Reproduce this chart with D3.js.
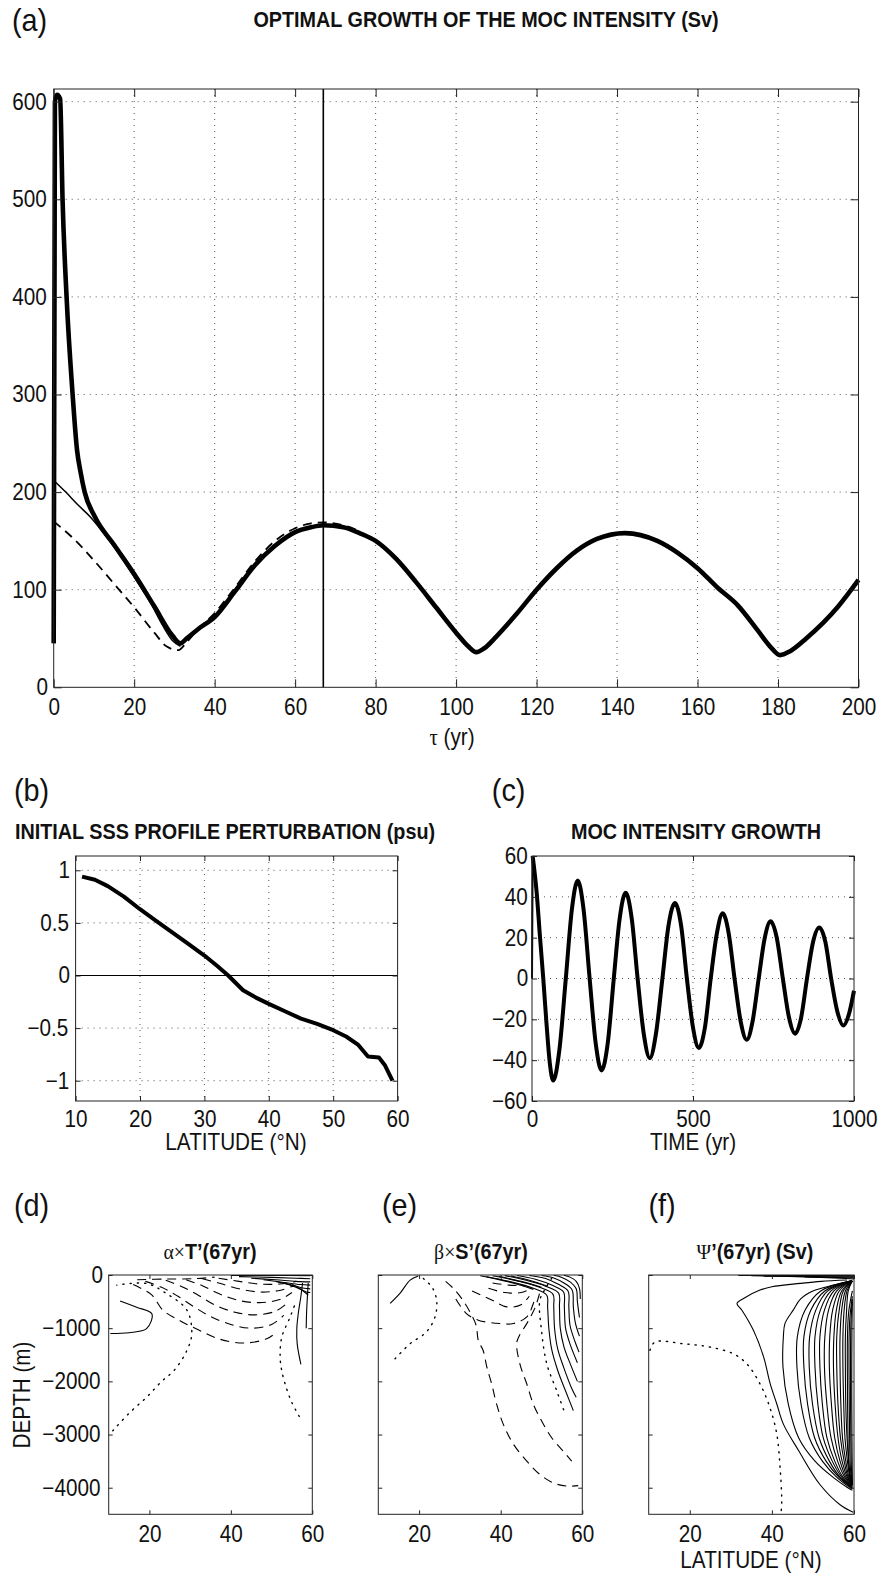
<!DOCTYPE html>
<html lang="en">
<head>
<meta charset="UTF-8">
<title>Optimal growth of the MOC intensity</title>
<script src="https://d3js.org/d3.v7.min.js"></script>
<style>
  body { margin: 0; background: #fff; }
  svg { display: block; font-family: "Liberation Sans", Arial, Helvetica, sans-serif; }
  /* the original lettering is a little narrower than Liberation Sans */
  svg text { transform-box: fill-box; transform-origin: center; transform: scaleX(0.9); }
  .grid { stroke: #555; stroke-width: 1; stroke-dasharray: 1,5; }
  .frame { fill: none; stroke: #222; stroke-width: 1; }
  .sym { font-family: "Liberation Serif", "DejaVu Serif", serif; font-weight: normal; }
</style>
</head>
<body>
<svg id="fig"></svg>
<script>
const W = 881, H = 1573;
const svg = d3.select("#fig").attr("width", W).attr("height", H);

// ---- (a) optimal growth vs optimisation time tau ----
const tauThick = [0, 0.3, 0.8, 1.6, 2.2, 3.2, 4.7, 5.8, 6.7, 7.7, 10.2, 15, 20, 25, 29.5, 31.5, 33, 36, 40, 45, 50, 55, 60, 64, 67, 72, 76, 80, 85, 90, 95, 100, 103, 105, 107, 110, 115, 120, 125, 130, 135, 142, 150, 155, 160, 165, 170, 175, 178, 180.5, 183, 187, 195, 200];
const mocThick = [45, 600, 607, 603, 500, 400, 300, 243, 220, 200, 175, 146, 116, 83, 53, 45, 50, 60, 72, 98, 125, 145, 159, 164, 166, 164, 158, 150, 132, 108, 82, 56, 42, 36, 40, 52, 75, 100, 122, 140, 152, 158, 150, 138, 122, 102, 84, 58, 42, 33, 37, 50, 83, 110];
const tauThin = [0, 3, 6, 9, 12, 16, 20, 22, 24, 27, 29.5, 31.5];
const mocThin = [212, 200, 187, 175, 160, 138, 113, 100, 87, 64, 48, 42];
const tauDash = [0, 5, 10, 15, 20, 25, 28, 31, 33, 36, 40, 45, 50, 55, 60, 64, 67, 72, 76];
const mocDash = [170, 152, 130, 106, 82, 56, 42, 38, 46, 60, 76, 102, 129, 150, 163, 168, 169, 166, 160];
const tauMark = 67;

// ---- (b) initial SSS perturbation ----
const latB = [11, 13, 15, 17.5, 20, 22.5, 25, 27.5, 30, 32, 33.7, 36, 38, 40, 42.5, 45, 47.5, 50, 52, 53.9, 55.4, 57.1, 58, 59.2];
const sssB = [0.94, 0.91, 0.85, 0.75, 0.63, 0.52, 0.41, 0.30, 0.19, 0.09, 0.0, -0.14, -0.21, -0.27, -0.34, -0.41, -0.46, -0.52, -0.58, -0.66, -0.77, -0.78, -0.85, -1.0];

// ---- (c) MOC intensity growth in time ----
const timeC = [0, 2, 14, 25, 35, 45, 55, 66, 85, 105, 124, 142, 160, 179, 198, 216, 235, 254, 272, 291, 310, 328, 347, 366, 385, 405, 424, 444, 463, 481, 500, 518, 537, 555, 574, 592, 611, 629, 648, 667, 685, 704, 723, 741, 760, 779, 798, 817, 836, 854, 873, 892, 911, 929, 948, 967, 985, 1000];
const mocC = [0, 60, 43, 20, 0, -22, -41, -50, -35, 0, 34, 48, 34, 0, -32, -45, -32, 0, 29, 42, 29, 0, -27, -39, -27, 0, 26, 37, 26, 0, -24, -34, -24, 0, 22, 32, 22, 0, -21, -30, -21, 0, 20, 28, 20, 0, -19, -27, -19, 0, 18, 25, 18, 0, -16, -23, -17, -6];

// ---- (d) alpha x T' at 67 yr : contours [lat, depth] ----
const tPos = [
  [[10.4, -1100], [15, -1085], [19.3, -1010], [20.6, -730], [17, -610], [12.8, -490]],
  [[57.6, -150], [57.2, -400], [56.6, -700], [56.2, -1000], [56.3, -1300], [57.2, -1680]],
  [[59, -150], [58.8, -400], [58.6, -700], [58.5, -1000]],
  [[40, -8], [50, -10], [59.5, -12]],
  [[42, -30], [50, -45], [56, -60], [59.5, -70]],
  [[45, -60], [51, -90], [56, -120], [59.5, -130]],
  [[48, -90], [53, -140], [57, -180], [59.5, -190]],
  [[51, -120], [55, -190], [58, -250], [59.5, -260]],
  [[53, -150], [56, -230], [58.5, -320], [59.5, -330]],
  [[55, -180], [57, -260], [59, -380]]
];
const tNeg = [
  [[16, -180], [20.5, -370], [23.3, -660], [27.5, -860], [32, -1030], [37, -1200], [43, -1280], [48.8, -1200], [51.3, -1070]],
  [[19, -120], [23, -230], [27, -400], [31, -600], [35, -780], [40, -930], [45, -1000], [50, -930], [53, -760]],
  [[24, -100], [28, -220], [32, -380], [36, -560], [41, -700], [46, -750], [51, -680], [54, -520]],
  [[29, -90], [33, -200], [37, -350], [42, -480], [47, -520], [52, -460], [55, -330]],
  [[33, -70], [37, -150], [42, -260], [47, -320], [52, -290], [55.5, -200]],
  [[37, -60], [42, -120], [47, -170], [52, -170], [56, -120]],
  [[17, -90], [24, -75], [31, -70], [36, -40]]
];
const tZero = [
  [[11, -2930], [15, -2600], [19.3, -2300], [23, -2000], [26, -1800], [29.2, -1420], [30.4, -1100], [29.2, -660], [24.2, -350], [19.3, -160], [12, -190]],
  [[56.8, -2660], [55, -2400], [53.7, -2140], [52.5, -1800], [52.1, -1540], [52.5, -1170], [54.5, -800], [56, -500]]
];

// ---- (e) beta x S' at 67 yr ----
const sPos = [
  [[12.9, -535], [15.3, -347], [17.8, -95], [19.8, -19]],
  [[35, -15], [42, -120], [48, -250], [51.3, -380], [51.5, -600], [51.8, -1000], [52.5, -1400], [54, -1800], [56, -2200], [57.8, -2550]],
  [[38, -15], [44, -110], [49.5, -230], [52.8, -360], [53, -600], [53.2, -1000], [54, -1400], [55.5, -1750], [57.5, -2150], [58.5, -2300]],
  [[41, -12], [46, -95], [51, -210], [54.2, -340], [54.4, -600], [54.6, -1000], [55.5, -1350], [57.2, -1700], [58.8, -2000]],
  [[44, -10], [48.5, -80], [52.5, -190], [55.4, -320], [55.6, -600], [55.9, -1000], [57, -1300], [58.8, -1650]],
  [[47, -8], [51, -65], [54, -170], [56.5, -300], [56.7, -600], [57, -950], [58.2, -1250], [59.2, -1450]],
  [[50, -8], [53, -55], [55.5, -150], [57.5, -280], [57.8, -600], [58.3, -900], [59.3, -1150]],
  [[53, -6], [55, -45], [57, -130], [58.5, -260], [58.8, -500], [59.3, -800]],
  [[55.5, -5], [57, -40], [58.5, -120], [59.3, -250], [59.5, -450]],
  [[36.5, -30], [43, -150], [48, -270]],
  [[39.5, -25], [45, -120], [50, -230]],
  [[42.5, -20], [47, -100], [51.5, -210]]
];
const sNeg = [
  [[26.5, -120], [28.5, -260], [30.5, -450], [32.5, -700], [34, -950], [34.5, -1230], [35.7, -1420], [36.6, -1730], [37.8, -2050], [39, -2430], [40.6, -2800], [43.1, -3180], [46.4, -3500], [49.6, -3750], [52.9, -3910], [56.2, -3970], [59, -3960]],
  [[49.5, -350], [48.5, -600], [46.5, -900], [44.5, -1150], [43.9, -1290], [44.7, -1670], [46.4, -2050], [48, -2430], [50, -2740], [52.5, -3060], [55.3, -3310], [57.4, -3500]],
  [[29, -450], [31.6, -725], [34.5, -850], [39.8, -913], [43.1, -913], [46.4, -788], [48, -535], [48.5, -400]],
  [[33, -300], [37.8, -470], [41.5, -600], [45, -560], [47, -400]],
  [[37, -250], [41, -330], [45, -330], [47.5, -250]],
  [[38, -150], [42, -190], [46, -200]]
];
const sZero = [
  [[14.1, -1575], [17.8, -1292], [21.8, -1071], [23.9, -788], [24.3, -473], [23.1, -220], [21.4, -95], [20.5, -10]],
  [[52.5, -60], [51, -250], [49.6, -470], [50, -1040], [51.3, -1670], [53.7, -2170], [55.8, -2615]]
];

// ---- (f) streamfunction Psi' at 67 yr (Sv) ----
const psiPos = [
  [[31.8, -8], [45, -8], [60, -8]],
  [[35, -15], [48, -18], [60, -22]],
  [[38, -22], [50, -30], [60, -40]],
  [[44, -28], [53, -42], [60, -55]],
  [[48, -35], [55, -55], [60, -75]],
  [[58.3, -95], [52, -120], [46.9, -158], [40, -220], [37.1, -284], [33.1, -441], [31.5, -536], [32.7, -662], [35.5, -1040], [38, -1544], [39.6, -2048], [41.2, -2426], [42.8, -2804], [46.5, -3300], [51.7, -3940], [56.6, -4320], [59.8, -4460]],
  [[59.4, -110], [55, -190], [50, -300], [47, -450], [45.2, -660], [43.2, -910], [42.8, -1160], [42.7, -1730], [44, -2430], [46.5, -3060], [50.5, -3500], [55, -3810], [58.3, -3990], [59.6, -4050]],
  [[59.4, -110], [51.9, -300], [48.1, -660], [46.2, -1160], [46.1, -1730], [47.1, -2430], [49.1, -3060], [52.3, -3500], [55.9, -3810], [59.6, -4030]],
  [[59.4, -110], [52.9, -300], [49.5, -660], [47.8, -1160], [47.8, -1730], [48.7, -2430], [50.4, -3060], [53.2, -3500], [56.4, -3810], [59.6, -4010]],
  [[59.4, -110], [53.6, -300], [50.7, -660], [49.2, -1160], [49.1, -1730], [49.9, -2430], [51.5, -3060], [54.0, -3500], [56.7, -3810], [59.6, -4000]],
  [[59.5, -110], [54.4, -300], [51.8, -660], [50.5, -1160], [50.5, -1730], [51.2, -2430], [52.5, -3060], [54.7, -3500], [57.1, -3810], [59.6, -3990]],
  [[59.5, -110], [55.1, -300], [52.8, -660], [51.7, -1160], [51.7, -1730], [52.3, -2430], [53.4, -3060], [55.3, -3500], [57.4, -3810], [59.6, -3980]],
  [[59.5, -110], [55.8, -300], [53.8, -660], [52.9, -1160], [52.8, -1730], [53.4, -2430], [54.4, -3060], [56.0, -3500], [57.8, -3810], [59.6, -3970]],
  [[59.5, -110], [56.4, -300], [54.8, -660], [54.1, -1160], [54.0, -1730], [54.5, -2430], [55.3, -3060], [56.6, -3500], [58.1, -3810], [59.6, -3960]],
  [[59.5, -110], [57.0, -300], [55.7, -660], [55.1, -1160], [55.0, -1730], [55.4, -2430], [56.1, -3060], [57.1, -3500], [58.4, -3810], [59.6, -3950]],
  [[59.6, -110], [57.4, -300], [56.4, -660], [55.8, -1160], [55.8, -1730], [56.1, -2430], [56.7, -3060], [57.6, -3500], [58.6, -3810], [59.6, -3950]],
  [[59.6, -110], [57.9, -300], [57.0, -660], [56.6, -1160], [56.6, -1730], [56.8, -2430], [57.2, -3060], [58.0, -3500], [58.8, -3810], [59.6, -3940]],
  [[59.6, -110], [58.3, -300], [57.6, -660], [57.3, -1160], [57.3, -1730], [57.5, -2430], [57.8, -3060], [58.4, -3500], [59.0, -3810], [59.6, -3940]],
  [[59.6, -110], [58.6, -300], [58.2, -660], [57.9, -1160], [57.9, -1730], [58.0, -2430], [58.3, -3060], [58.7, -3500], [59.1, -3810], [59.6, -3940]],
  [[59.6, -300], [58.7, -700], [58.4, -1200], [58.4, -2000], [58.5, -2800], [58.8, -3600], [59.6, -3950]],
  [[59.6, -400], [59.0, -800], [58.8, -1200], [58.8, -2000], [58.9, -2800], [59.1, -3600], [59.6, -3950]],
  [[59.6, -450], [59.25, -900], [59.15, -2000], [59.2, -2800], [59.35, -3600], [59.6, -3940]],
  [[59.6, -500], [59.5, -1000], [59.45, -2000], [59.5, -3000], [59.6, -3900]]
];
const psiZero = [
  [[10.3, -1418], [11.5, -1260], [18.4, -1292], [24.9, -1355], [30.6, -1481], [33.9, -1670], [37.1, -2048], [39.5, -2489], [41.2, -2993], [42, -3623], [42.4, -4253], [42.2, -4500]]
];

// ---------------------------------------------------------------
const FS = 23;

function axesBox(o) {
  const g = svg.append("g");
  const x = d3.scaleLinear().domain(o.xDomain).range([o.left, o.right]);
  const y = d3.scaleLinear().domain(o.yDomain).range([o.bottom, o.top]);
  const gridLayer = g.append("g");
  const dataLayer = g.append("g");
  const axisLayer = g.append("g");

  gridLayer.selectAll(".gx").data(o.xGrid || []).join("line")
    .attr("class", "grid")
    .attr("x1", d => x(d)).attr("x2", d => x(d))
    .attr("y1", o.top).attr("y2", o.bottom);
  gridLayer.selectAll(".gy").data(o.yGrid || []).join("line")
    .attr("class", "grid")
    .attr("x1", o.left).attr("x2", o.right)
    .attr("y1", d => y(d)).attr("y2", d => y(d));

  const fmt = o.fmt || d3.format("~g");
  const tl = o.tick;
  const style = sel => {
    sel.attr("font-size", FS).attr("font-family", null);
    sel.select(".domain").remove();
    sel.selectAll(".tick line").attr("stroke", "#222");
    sel.selectAll(".tick text").attr("fill", "#111");
  };
  axisLayer.append("g").attr("transform", `translate(0,${o.bottom})`)
    .call(d3.axisBottom(x).tickValues(o.xTicks).tickSizeInner(-tl).tickSizeOuter(0)
      .tickPadding(o.xPad).tickFormat(fmt)).call(style);
  axisLayer.append("g").attr("transform", `translate(0,${o.top})`)
    .call(d3.axisTop(x).tickValues(o.xTicks).tickSizeInner(-tl).tickSizeOuter(0)
      .tickFormat("")).call(style);
  axisLayer.append("g").attr("transform", `translate(${o.left},0)`)
    .call(d3.axisLeft(y).tickValues(o.yTicks).tickSizeInner(-tl).tickSizeOuter(0)
      .tickPadding(o.yPad).tickFormat(o.yLabels === false ? "" : fmt)).call(style);
  axisLayer.append("g").attr("transform", `translate(${o.right},0)`)
    .call(d3.axisRight(y).tickValues(o.yTicks).tickSizeInner(-tl).tickSizeOuter(0)
      .tickFormat("")).call(style);
  axisLayer.append("rect").attr("class", "frame")
    .attr("x", o.left).attr("y", o.top)
    .attr("width", o.right - o.left).attr("height", o.bottom - o.top);
  return { x, y, data: dataLayer };
}

function label(txt, x, y, opt = {}) {
  let parent = svg;
  let px = x, py = y;
  if (opt.rotate) {
    parent = svg.append("g").attr("transform", `translate(${x},${y}) rotate(-90)`);
    px = 0; py = 0;
  }
  const t = parent.append("text").attr("x", px).attr("y", py)
    .attr("font-size", opt.size || FS)
    .attr("font-weight", opt.bold ? "bold" : "normal")
    .attr("text-anchor", opt.anchor || "middle")
    .attr("fill", "#111");
  if (Array.isArray(txt)) {
    txt.forEach(p => t.append("tspan").attr("class", p.sym ? "sym" : null).text(p.t));
  } else t.text(txt);
  return t;
}

function drawSeries(ax, xs, ys, width, dash, curve) {
  const line = d3.line().x(d => ax.x(d[0])).y(d => ax.y(d[1])).curve(curve || d3.curveMonotoneX);
  ax.data.append("path").datum(d3.zip(xs, ys))
    .attr("d", line).attr("fill", "none").attr("stroke", "#000")
    .attr("stroke-width", width).attr("stroke-linejoin", "round")
    .attr("stroke-dasharray", dash || null);
}

const contourStyle = {
  pos: { dash: null, w: 1.1 },
  neg: { dash: "9,6", w: 1.1 },
  zero: { dash: "1.2,6", w: 1.4 }
};
function drawContours(ax, lines, sign) {
  const st = contourStyle[sign];
  const line = d3.line().x(d => ax.x(d[0])).y(d => ax.y(d[1])).curve(d3.curveCatmullRom.alpha(0.5));
  ax.data.selectAll(null).data(lines).join("path")
    .attr("d", line).attr("fill", "none").attr("stroke", "#000")
    .attr("stroke-width", st.w).attr("stroke-dasharray", st.dash)
    .attr("stroke-linecap", sign === "zero" ? "round" : "butt");
}

// ---------------- panel (a) ----------------
const axA = axesBox({
  left: 53.7, right: 858.5, top: 89, bottom: 687.3,
  xDomain: [0, 200], yDomain: [0, 613],
  xTicks: d3.range(0, 201, 20), yTicks: d3.range(0, 601, 100),
  xGrid: d3.range(20, 181, 20), yGrid: d3.range(100, 601, 100),
  tick: 8, xPad: 11, yPad: 5
});
drawSeries(axA, tauThin, mocThin, 1.5);
drawSeries(axA, tauDash, mocDash, 1.8, "9,6");
drawSeries(axA, tauThick, mocThick, 4.6);
axA.data.append("line")
  .attr("x1", axA.x(tauMark)).attr("x2", axA.x(tauMark))
  .attr("y1", 89).attr("y2", 687.3)
  .attr("stroke", "#000").attr("stroke-width", 1.6);

label("(a)", 10, 31, { size: 32, anchor: "start" });
label("OPTIMAL GROWTH OF THE MOC INTENSITY (Sv)", 486, 27, { size: 22, bold: true });
label([{ t: "τ", sym: true }, { t: " (yr)" }], 452, 745);

// ---------------- panel (b) ----------------
const axB = axesBox({
  left: 75.6, right: 397.6, top: 856, bottom: 1101,
  xDomain: [10, 60], yDomain: [-1.193, 1.136],
  xTicks: d3.range(10, 61, 10), yTicks: [-1, -0.5, 0, 0.5, 1],
  xGrid: [20, 30, 40, 50], yGrid: [-1, -0.5, 0.5, 1],
  tick: 5, xPad: 10, yPad: 5
});
axB.data.append("line")
  .attr("x1", axB.x(10)).attr("x2", axB.x(60))
  .attr("y1", axB.y(0)).attr("y2", axB.y(0))
  .attr("stroke", "#000").attr("stroke-width", 1.1);
drawSeries(axB, latB, sssB, 4, null, d3.curveLinear);
label("(b)", 12, 801, { size: 32, anchor: "start" });
label("INITIAL SSS PROFILE PERTURBATION (psu)", 225, 839, { size: 22, bold: true });
label("LATITUDE (°N)", 236, 1150);

// ---------------- panel (c) ----------------
const axC = axesBox({
  left: 532, right: 854, top: 856, bottom: 1101,
  xDomain: [0, 1000], yDomain: [-60, 60],
  xTicks: [0, 500, 1000], yTicks: d3.range(-60, 61, 20),
  xGrid: [500], yGrid: [-40, -20, 0, 20, 40],
  tick: 5, xPad: 10, yPad: 3
});
drawSeries(axC, timeC.slice(0, 2), mocC.slice(0, 2), 2, null, d3.curveLinear);
drawSeries(axC, timeC.slice(1), mocC.slice(1), 4);
label("(c)", 490, 801, { size: 32, anchor: "start" });
label("MOC INTENSITY GROWTH", 696, 839, { size: 22, bold: true });
label("TIME (yr)", 693, 1150);

// ---------------- panels (d), (e), (f) ----------------
const secBase = {
  top: 1275, bottom: 1514.3,
  xDomain: [10, 60], yDomain: [-4500, 0],
  xTicks: [20, 40, 60], yTicks: [-4000, -3000, -2000, -1000, 0],
  tick: 4, xPad: 11, yPad: 5, fmt: d3.format("d")
};
const axD = axesBox({ ...secBase, left: 108.7, right: 312.3 });
drawContours(axD, tZero, "zero");
drawContours(axD, tNeg, "neg");
drawContours(axD, tPos, "pos");
label("(d)", 12, 1216, { size: 32, anchor: "start" });
label([{ t: "α×", sym: true }, { t: "T’(67yr)" }], 210, 1259, { size: 22, bold: true });
label("DEPTH (m)", 30, 1395, { rotate: true });

const axE = axesBox({ ...secBase, left: 378.3, right: 582.3, yLabels: false });
drawContours(axE, sZero, "zero");
drawContours(axE, sNeg, "neg");
drawContours(axE, sPos, "pos");
label("(e)", 380, 1216, { size: 32, anchor: "start" });
label([{ t: "β×", sym: true }, { t: "S’(67yr)" }], 481, 1259, { size: 22, bold: true });

const axF = axesBox({ ...secBase, left: 648.7, right: 854, yLabels: false });
drawContours(axF, psiZero, "zero");
drawContours(axF, psiPos, "pos");
label("(f)", 647, 1216, { size: 32, anchor: "start" });
label([{ t: "Ψ", sym: true }, { t: "’(67yr) (Sv)" }], 755, 1259, { size: 22, bold: true });
label("LATITUDE (°N)", 751, 1568);
</script>
</body>
</html>
